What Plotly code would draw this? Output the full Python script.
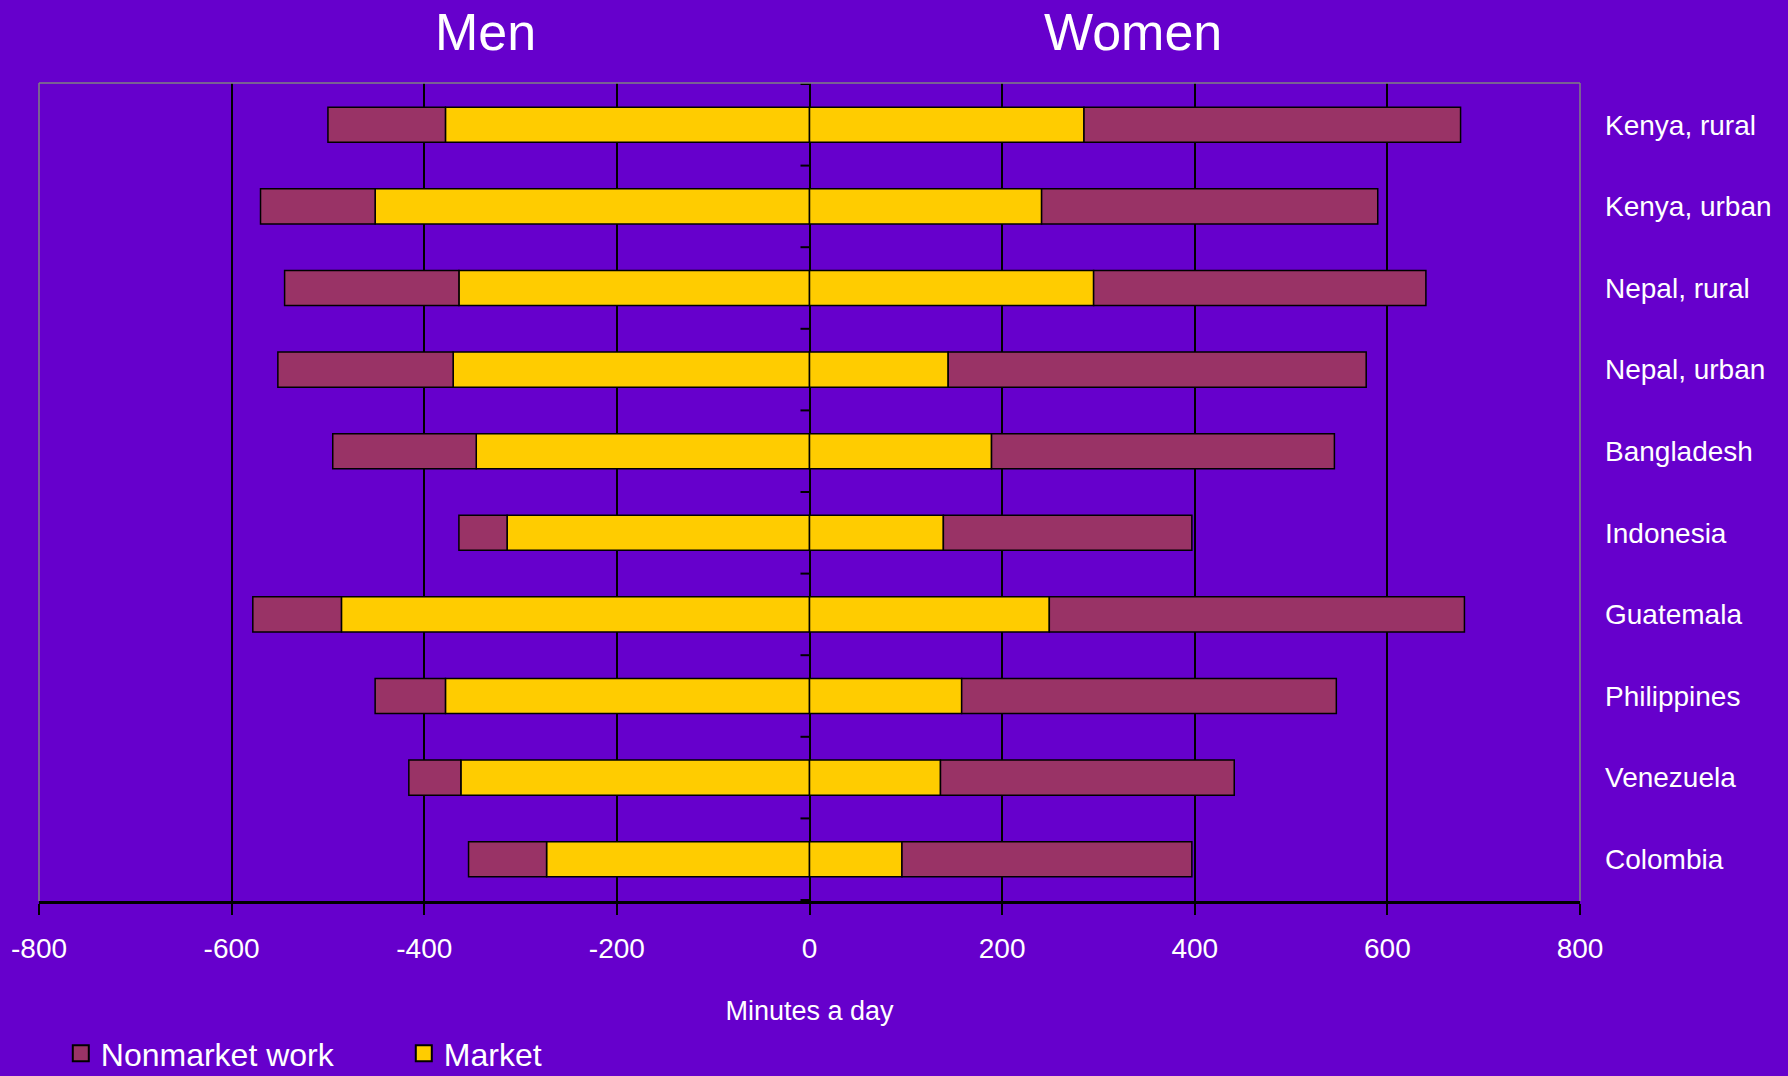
import plotly.graph_objects as go

categories = ["Kenya, rural", "Kenya, urban", "Nepal, rural", "Nepal, urban", "Bangladesh",
              "Indonesia", "Guatemala", "Philippines", "Venezuela", "Colombia"]
men_market = [378, 451, 364, 370, 346, 314, 486, 378, 362, 273]
men_nonmarket = [122, 119, 181, 182, 149, 50, 92, 73, 54, 81]
women_market = [285, 241, 295, 144, 189, 139, 249, 158, 136, 96]
women_nonmarket = [391, 349, 345, 434, 356, 258, 431, 389, 305, 301]
x_ticks = [-800, -600, -400, -200, 0, 200, 400, 600, 800]

BG = "#6600CC"
YELLOW = "#FFCC00"
MAROON = "#993366"
FONT = "Liberation Sans, Arial, sans-serif"

line = dict(color="black", width=1.5)
fig = go.Figure()
fig.add_trace(go.Bar(y=categories, x=[-v for v in men_market], orientation="h",
                     marker=dict(color=YELLOW, line=line), showlegend=False, name="Market"))
fig.add_trace(go.Bar(y=categories, x=women_market, orientation="h",
                     marker=dict(color=YELLOW, line=line), showlegend=False, name="Market"))
fig.add_trace(go.Bar(y=categories, x=[-v for v in men_nonmarket], orientation="h",
                     marker=dict(color=MAROON, line=line), showlegend=False, name="Nonmarket work"))
fig.add_trace(go.Bar(y=categories, x=women_nonmarket, orientation="h",
                     marker=dict(color=MAROON, line=line), showlegend=False, name="Nonmarket work"))

# legend entries
for name, col in [("Nonmarket work", MAROON), ("Market", YELLOW)]:
    fig.add_trace(go.Scatter(x=[None], y=[None], mode="markers", name=name,
                             marker=dict(symbol="square", size=16, color=col,
                                         line=dict(color="black", width=2))))

shapes = []
# category boundary tick marks at x=0
for i in range(len(categories) + 1):
    shapes.append(dict(type="line", xref="x", yref="y", xsizemode="pixel", xanchor=0,
                       x0=-9, x1=0, y0=i - 0.5, y1=i - 0.5,
                       line=dict(color="black", width=2), layer="above"))
# gray plot border (top, left, right)
for (x0, y0, x1, y1) in [(0, 1, 1, 1), (0, 0, 0, 1), (1, 0, 1, 1)]:
    shapes.append(dict(type="line", xref="paper", yref="paper", x0=x0, y0=y0, x1=x1, y1=y1,
                       line=dict(color="#808080", width=1.5), layer="above"))

fig.update_layout(
    width=1788, height=1076,
    paper_bgcolor=BG, plot_bgcolor=BG,
    font=dict(family=FONT, color="white", size=28),
    barmode="relative", bargap=0.57,
    margin=dict(l=38.5, r=207.5, t=83, b=175, autoexpand=False),
    xaxis=dict(range=[-800, 800], tickvals=x_ticks, ticktext=[str(v) for v in x_ticks],
               showgrid=True, gridcolor="black", gridwidth=1.5,
               zeroline=True, zerolinecolor="black", zerolinewidth=2,
               showline=True, linecolor="black", linewidth=2.5,
               ticks="outside", ticklen=11, tickwidth=1.5, tickcolor="black",
               tickfont=dict(size=28, color="white"), ticklabelstandoff=10,
               title=dict(text="Minutes a day", font=dict(size=27, color="white"), standoff=64),
               fixedrange=True, automargin=False),
    yaxis=dict(type="category", categoryarray=categories, autorange="reversed",
               side="right", showgrid=False, zeroline=False, showline=False, ticks="",
               tickfont=dict(size=28, color="white"), ticklabelstandoff=24, automargin=False),
    shapes=shapes,
    legend=dict(orientation="h", xref="container", yref="container", x=0.034, y=0.0465,
                xanchor="left", yanchor="top", font=dict(size=32, color="white"),
                itemsizing="trace", entrywidth=298, entrywidthmode="pixels",
                bgcolor="rgba(0,0,0,0)", traceorder="normal"),
    annotations=[
        dict(text="Men", x=-336, y=1.0623, xref="x", yref="paper", showarrow=False,
             xanchor="center", yanchor="middle", font=dict(size=52, color="white")),
        dict(text="Women", x=336, y=1.0623, xref="x", yref="paper", showarrow=False,
             xanchor="center", yanchor="middle", font=dict(size=52, color="white")),
    ],
)

fig.write_html("out.html", config={"displayModeBar": False},
               post_script="document.body.style.margin='0';document.body.style.overflow='hidden';")
